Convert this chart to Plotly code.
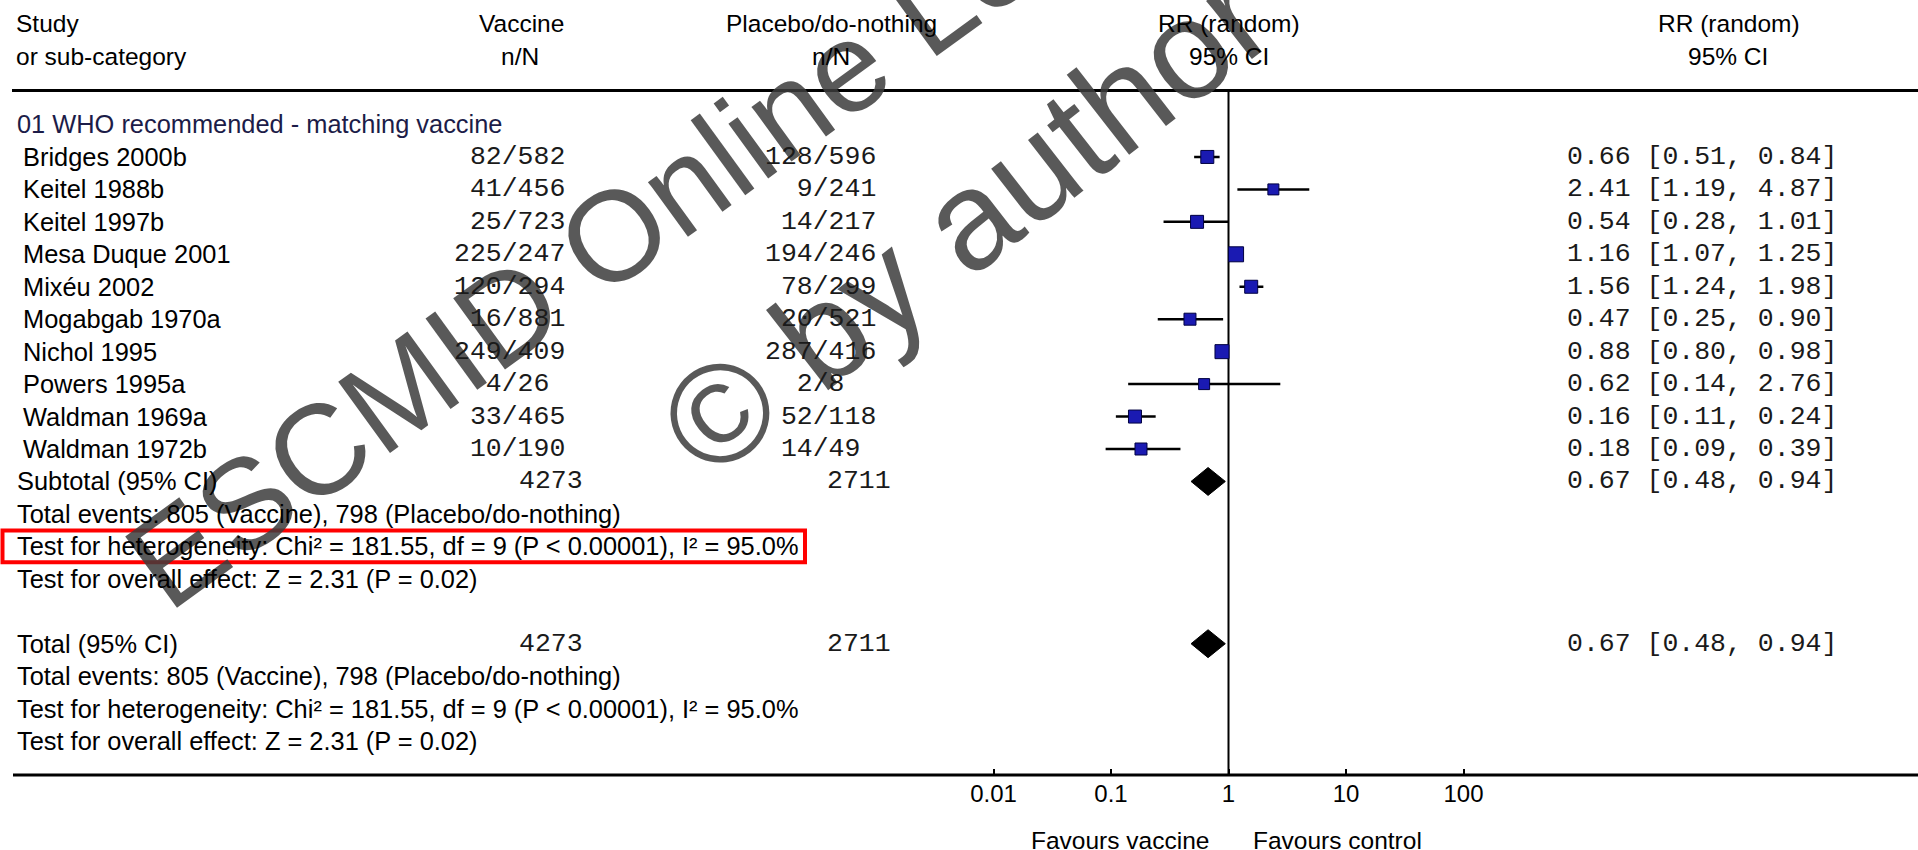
import math
import plotly.graph_objects as go

W, H = 1918, 850

# ---- data ---------------------------------------------------------------
group_title = "01 WHO recommended - matching vaccine"
studies = ["Bridges 2000b", "Keitel 1988b", "Keitel 1997b", "Mesa Duque 2001", "Mixéu 2002",
           "Mogabgab 1970a", "Nichol 1995", "Powers 1995a", "Waldman 1969a", "Waldman 1972b"]
vac_events = [82, 41, 25, 225, 120, 16, 249, 4, 33, 10]
vac_total = [582, 456, 723, 247, 294, 881, 409, 26, 465, 190]
pla_events = [128, 9, 14, 194, 78, 20, 287, 2, 52, 14]
pla_total = [596, 241, 217, 246, 299, 521, 416, 8, 118, 49]
rr = [0.66, 2.41, 0.54, 1.16, 1.56, 0.47, 0.88, 0.62, 0.16, 0.18]
rr_lo = [0.51, 1.19, 0.28, 1.07, 1.24, 0.25, 0.80, 0.14, 0.11, 0.09]
rr_hi = [0.84, 4.87, 1.01, 1.25, 1.98, 0.90, 0.98, 2.76, 0.24, 0.39]

pooled_rr, pooled_lo, pooled_hi = 0.67, 0.48, 0.94
chi2, df, p_het, i2 = 181.55, 9, "< 0.00001", 95.0
z_val, p_overall = 2.31, 0.02

tick_vals = [0.01, 0.1, 1, 10, 100]
tick_text = ["0.01", "0.1", "1", "10", "100"]

# ---- styling ------------------------------------------------------------
box_px = [13, 11, 13, 15, 13, 12, 14, 11, 13, 12]   # square size per study (weight)
FAM = "Liberation Sans, Arial, sans-serif"
HEAD = dict(family=FAM, size=24.5, color="#000000")
SANS = dict(family=FAM, size=25.4, color="#000000")
MONO = dict(family="Liberation Mono, Courier New, monospace", size=26.5, color="#1a1a1a")
GROUP = dict(SANS, color="#1c1c48")
SQUARE_BLUE = "#1a1ab2"

# row geometry (row index -> pixel)
ROW0_PX, ROW_STEP = 124.5, 32.45
TOP_PX, AXIS_PX = 90.5, 775.0
y_top = (TOP_PX - ROW0_PX) / ROW_STEP
y_bot = (AXIS_PX - ROW0_PX) / ROW_STEP

# log x axis: RR=1 at 1228.5 px, 117.5 px per decade
ONE_PX, DECADE_PX = 1228.5, 117.5
x_range = [-ONE_PX / DECADE_PX, (W - ONE_PX) / DECADE_PX]

n = len(studies)
study_rows = list(range(1, n + 1))
sub_row, het_row = n + 1, n + 3
tot_row = n + 6

fig = go.Figure()

# ---- watermark (drawn first so chart text sits above it) ----------------
WM_COLOR = "rgba(60,60,60,0.85)"
fig.add_annotation(x=867 / W, y=1 - 51 / H, xref="paper", yref="paper",
                   text="ESCMID Online Lecture Library", showarrow=False, textangle=-36,
                   font=dict(family=FAM, size=128, color=WM_COLOR),
                   xanchor="center", yanchor="middle")
fig.add_annotation(x=965 / W, y=1 - 221 / H, xref="paper", yref="paper",
                   text="© by author", showarrow=False, textangle=-38,
                   font=dict(family=FAM, size=140, color=WM_COLOR),
                   xanchor="center", yanchor="middle")

# ---- forest plot marks --------------------------------------------------
# line of no effect
fig.add_trace(go.Scatter(x=[1, 1], y=[y_top, y_bot], mode="lines",
                         line=dict(color="black", width=2), hoverinfo="skip"))

# confidence intervals
ci_x, ci_y = [], []
for lo, hi, r in zip(rr_lo, rr_hi, study_rows):
    ci_x += [lo, hi, None]
    ci_y += [r, r, None]
fig.add_trace(go.Scatter(x=ci_x, y=ci_y, mode="lines",
                         line=dict(color="black", width=2.5), hoverinfo="skip"))

# study point estimates
fig.add_trace(go.Scatter(x=rr, y=study_rows, mode="markers", opacity=1,
                         marker=dict(symbol="square", size=box_px, color=SQUARE_BLUE,
                                     opacity=1, line=dict(color="#000040", width=1)),
                         hoverinfo="skip"))

# pooled diamonds
HALF_H = 0.43
for row in (sub_row, tot_row):
    fig.add_trace(go.Scatter(
        x=[pooled_lo, pooled_rr, pooled_hi, pooled_rr, pooled_lo],
        y=[row, row - HALF_H, row, row + HALF_H, row],
        mode="lines", fill="toself", fillcolor="black",
        line=dict(color="black", width=1), hoverinfo="skip"))


# ---- text ---------------------------------------------------------------
def row_text(x_px, row, text, anchor="left", font=SANS):
    fig.add_annotation(x=x_px / W, xref="paper", y=row, yref="y", text=text,
                       showarrow=False, xanchor=anchor, yanchor="middle", font=font)


def head_text(x_px, y_px, text, anchor="center", font=HEAD):
    fig.add_annotation(x=x_px / W, xref="paper", y=1 - y_px / H, yref="paper", text=text,
                       showarrow=False, xanchor=anchor, yanchor="middle", font=font)


def nN(a, b):
    return f"{a:>3}/{b:<3}".replace(" ", "\u00a0")


def ci_str(est, lo, hi):
    return f"{est:.2f} [{lo:.2f}, {hi:.2f}]"


# column headers
head_text(13.5, 23, "Study", "left")
head_text(13.5, 56, "or sub-category", "left")
head_text(521, 23, "Vaccine")
head_text(520, 56, "n/N")
head_text(831, 23, "Placebo/do-nothing")
head_text(831, 56, "n/N")
head_text(1229, 23, "RR (random)")
head_text(1229, 56, "95% CI")
head_text(1729, 23, "RR (random)")
head_text(1728, 56, "95% CI")

row_text(15, 0, group_title, font=GROUP)
for i, r in enumerate(study_rows):
    row_text(21, r, studies[i])
    row_text(567, r, nN(vac_events[i], vac_total[i]), "right", MONO)
    row_text(878, r, nN(pla_events[i], pla_total[i]), "right", MONO)
    row_text(1565, r, ci_str(rr[i], rr_lo[i], rr_hi[i]), font=MONO)

sum_vac, sum_pla = sum(vac_total), sum(pla_total)
ev_vac, ev_pla = sum(vac_events), sum(pla_events)
events_txt = f"Total events: {ev_vac} (Vaccine), {ev_pla} (Placebo/do-nothing)"
het_txt = f"Test for heterogeneity: Chi² = {chi2:.2f}, df = {df} (P {p_het}), I² = {i2:.1f}%"
eff_txt = f"Test for overall effect: Z = {z_val:.2f} (P = {p_overall:.2f})"

for row, label in ((sub_row, "Subtotal (95% CI)"), (tot_row, "Total (95% CI)")):
    row_text(15, row, label)
    row_text(585, row, str(sum_vac), "right", MONO)
    row_text(893, row, str(sum_pla), "right", MONO)
    row_text(1565, row, ci_str(pooled_rr, pooled_lo, pooled_hi), font=MONO)
    row_text(15, row + 1, events_txt)
    row_text(15, row + 2, het_txt)
    row_text(15, row + 3, eff_txt)

# favours labels under the axis
head_text(1211, 840, "Favours vaccine", "right")
head_text(1251, 840, "Favours control", "left")

# ---- rules and highlight box -------------------------------------------
fig.add_shape(type="line", xref="paper", yref="paper", x0=12 / W, x1=1,
              y0=1 - TOP_PX / H, y1=1 - TOP_PX / H, line=dict(color="black", width=3))
fig.add_shape(type="line", xref="paper", yref="paper", x0=13 / W, x1=1,
              y0=1 - AXIS_PX / H, y1=1 - AXIS_PX / H, line=dict(color="black", width=3))
fig.add_shape(type="rect", xref="paper", yref="y", x0=2.5 / W, x1=805 / W,
              y0=het_row - 0.49, y1=het_row + 0.49,
              line=dict(color="#ff0000", width=4), fillcolor="rgba(0,0,0,0)")

fig.update_layout(
    width=W, height=H, margin=dict(l=0, r=0, t=0, b=0),
    paper_bgcolor="white", plot_bgcolor="white", showlegend=False,
    xaxis=dict(type="log", range=x_range, domain=[0, 1], tickvals=tick_vals,
               ticktext=tick_text, ticks="inside", ticklen=6, tickwidth=1.5,
               tickcolor="black", showgrid=False, zeroline=False, showline=False,
               tickfont=dict(family=FAM, size=24, color="black"),
               ticklabelstandoff=2, fixedrange=True),
    yaxis=dict(range=[y_bot, y_top], domain=[1 - AXIS_PX / H, 1 - TOP_PX / H],
               visible=False, fixedrange=True),
)

fig.write_html("out.html")
